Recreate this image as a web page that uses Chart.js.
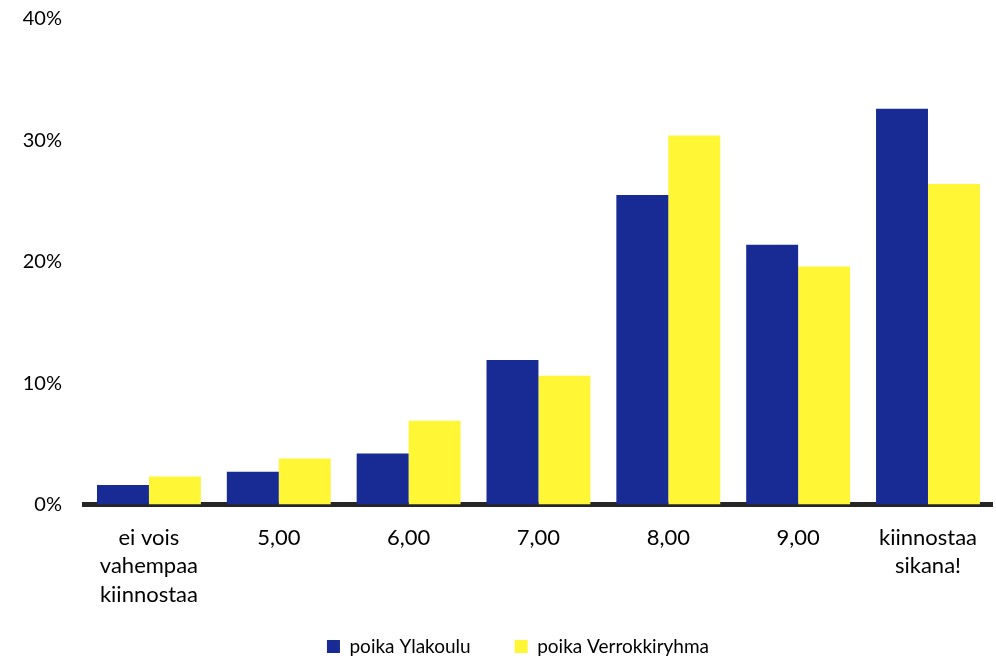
<!DOCTYPE html>
<html>
<head>
<meta charset="utf-8">
<script src="https://cdn.jsdelivr.net/npm/chart.js@4/dist/chart.umd.min.js"></script>
<style>
  body { margin: 0; background: #fff; }
  #wrap { width: 996px; height: 658px; position: relative; }
</style>
</head>
<body>
<div id="wrap"><canvas id="chart"></canvas></div>
<script>
const categories = [['ei vois', 'vahempaa', 'kiinnostaa'], '5,00', '6,00', '7,00', '8,00', '9,00', ['kiinnostaa', 'sikana!']];
const ylakoulu = [1.6, 2.7, 4.2, 11.9, 25.5, 21.4, 32.6];
const verrokki = [2.3, 3.8, 6.9, 10.6, 30.4, 19.6, 26.4];
const yTicks = [0, 10, 20, 30, 40];

const FONT = 'Lato, "Open Sans", sans-serif';

// legend sits a bit right of the canvas centre in the original
const shiftLegend = {
    id: 'shiftLegend',
    afterLayout(chart) {
        chart.legend.left = 40;
        chart.legend.top = 593;
    }
};

new Chart(document.getElementById('chart').getContext('2d'), {
    type: 'bar',
    data: {
        labels: categories,
        datasets: [
            { label: 'poika Ylakoulu', data: ylakoulu, backgroundColor: '#182A93' },
            { label: 'poika Verrokkiryhma', data: verrokki, backgroundColor: '#FFF736' },
        ]
    },
    options: {
        responsive: true,
        maintainAspectRatio: false,
        animation: false,
        datasets: { bar: { categoryPercentage: 0.8, barPercentage: 1.0 } },
        layout: { padding: { top: 19, left: 0, right: 0, bottom: 0 } },
        plugins: {
            tooltip: { enabled: false },
            legend: {
                position: 'bottom',
                maxHeight: 48,
                labels: {
                    color: '#000',
                    font: { family: FONT, size: 19 },
                    boxWidth: 13,
                    boxHeight: 13,
                    padding: 44,
                }
            }
        },
        scales: {
            x: {
                grid: { display: false, drawTicks: false },
                border: { display: true, color: '#262626', width: 5 },
                ticks: {
                    color: '#000',
                    font: { family: FONT, size: 22, lineHeight: 1.29 },
                    padding: 19,
                    maxRotation: 0,
                    autoSkip: false,
                },
                afterFit: (scale) => { scale.height = 105.5; }
            },
            y: {
                min: 0,
                max: 40,
                afterBuildTicks: (scale) => { scale.ticks = yTicks.map(v => ({ value: v })); },
                grid: { display: false, drawTicks: true, tickLength: 22 },
                border: { display: false },
                ticks: {
                    color: '#000',
                    font: { family: FONT, size: 20 },
                    padding: 0,
                    callback: (v) => v + '%',
                },
                afterFit: (scale) => { scale.width = 84; }
            }
        }
    },
    plugins: [shiftLegend]
});
</script>
</body>
</html>
